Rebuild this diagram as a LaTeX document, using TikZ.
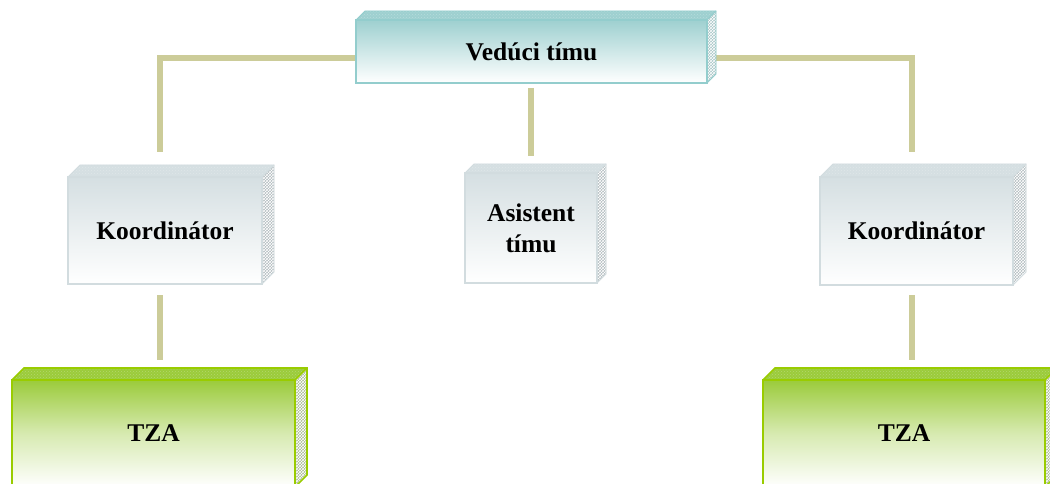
\documentclass[tikz,border=0pt]{standalone}
\usepackage{fontspec}
\setmainfont{Liberation Serif}
\usetikzlibrary{calc,patterns}
\pgfdeclarelayer{bgl}
\pgfdeclarelayer{connl}
\pgfdeclarelayer{facel}
\pgfsetlayers{bgl,connl,facel,main}
\definecolor{connc}{RGB}{204,204,153}
\definecolor{tealb}{RGB}{147,205,205}
\definecolor{tealt}{RGB}{158,208,208}
\definecolor{grayb}{RGB}{210,220,223}
\definecolor{grayt}{RGB}{213,223,226}
\definecolor{grays}{RGB}{178,188,191}
\definecolor{greenb}{RGB}{153,204,0}
\definecolor{greent}{RGB}{155,203,59}
\definecolor{greens}{RGB}{170,186,150}
\tikzset{
  boxtext/.style={font=\bfseries\fontsize{25.5}{30}\selectfont, align=center, inner sep=0pt, outer sep=0pt},
  leadbox/.style={boxtext, draw=tealb, line width=1.6pt, top color=tealt, bottom color=white},
  graybox/.style={boxtext, draw=grayb, line width=1.4pt, top color=grayt, bottom color=white},
  greenbox/.style={boxtext, draw=greenb, line width=1.8pt, top color=greent, bottom color=white, middle color=greent!40!white},
  conn/.style={draw=connc, line width=6pt, line cap=butt, line join=miter}
}
\newcommand{\boxfaces}[6]{%
  % #1 node, #2 depth, #3 top face colour, #4 side face colour, #5 edge colour, #6 edge width
  \begin{pgfonlayer}{facel}
  \fill[#3] (#1.north west) -- ++(#2,-#2) -- ($(#1.north east)+(#2,-#2)$) -- (#1.north east) -- cycle;
  \fill[pattern=crosshatch dots, pattern color=#3!75!white] (#1.north west) -- ++(#2,-#2) -- ($(#1.north east)+(#2,-#2)$) -- (#1.north east) -- cycle;
  \fill[#4] (#1.north east) -- ++(#2,-#2) -- ($(#1.south east)+(#2,-#2)$) -- (#1.south east) -- cycle;
  \fill[pattern=crosshatch, pattern color=white] (#1.north east) -- ++(#2,-#2) -- ($(#1.south east)+(#2,-#2)$) -- (#1.south east) -- cycle;
  \draw[#5, line width=#6] (#1.north west) -- ++(#2,-#2) -- ($(#1.north east)+(#2,-#2)$) -- ($(#1.south east)+(#2,-#2)$) -- (#1.south east);
  \draw[#5, line width=#6] (#1.north east) -- ++(#2,-#2);
  \end{pgfonlayer}}
\begin{document}
\begin{tikzpicture}[x=1pt,y=-1pt]
\clip (0,0) rectangle (1050,484);
\begin{pgfonlayer}{bgl}
\fill[white] (0,0) rectangle (1050,484);
\end{pgfonlayer}
% nodes (front faces)
\node[leadbox, minimum width=351pt, minimum height=63pt] (lead) at (531.5,51.5) {Vedúci tímu};
\node[graybox, minimum width=194pt, minimum height=107pt] (k1) at (165,230.5) {Koordinátor};
\node[graybox, minimum width=132pt, minimum height=110pt] (asst) at (531,228) {Asistent\\[1pt]tímu};
\node[graybox, minimum width=193pt, minimum height=108pt] (k2) at (916.5,231) {Koordinátor};
\node[greenbox, minimum width=283pt, minimum height=107pt] (t1) at (153.5,433.5) {TZA};
\node[greenbox, minimum width=282pt, minimum height=107pt] (t2) at (904,433.5) {TZA};
% 3D faces
\boxfaces{lead}{9}{tealt}{tealt!50!grays}{tealb}{0.9pt}
\boxfaces{k1}{12}{grayt}{grays}{grayb}{0.9pt}
\boxfaces{asst}{9}{grayt}{grays}{grayb}{0.9pt}
\boxfaces{k2}{13}{grayt}{grays}{grayb}{0.9pt}
\boxfaces{t1}{12}{greent}{greens}{greenb}{1.6pt}
\boxfaces{t2}{12}{greent}{greens}{greenb}{1.6pt}
% connector end points
\coordinate (lcorner) at (160,58);
\coordinate (rcorner) at (912,58);
\coordinate (k1in) at (160,152);
\coordinate (k2in) at (912,152);
\coordinate (midout) at (531,88);
\coordinate (asstin) at (531,156);
\coordinate (k1out) at (160,295);
\coordinate (t1in) at (160,360);
\coordinate (k2out) at (912,295);
\coordinate (t2in) at (912,360);
\begin{pgfonlayer}{connl}
\draw[conn] (lead.west |- lcorner) -- (lcorner) -- (k1in);
\draw[conn] (lead.east |- rcorner) -- (rcorner) -- (k2in);
\draw[conn] (midout) -- (asstin);
\draw[conn] (k1out) -- (t1in);
\draw[conn] (k2out) -- (t2in);
\end{pgfonlayer}
\end{tikzpicture}
\end{document}
